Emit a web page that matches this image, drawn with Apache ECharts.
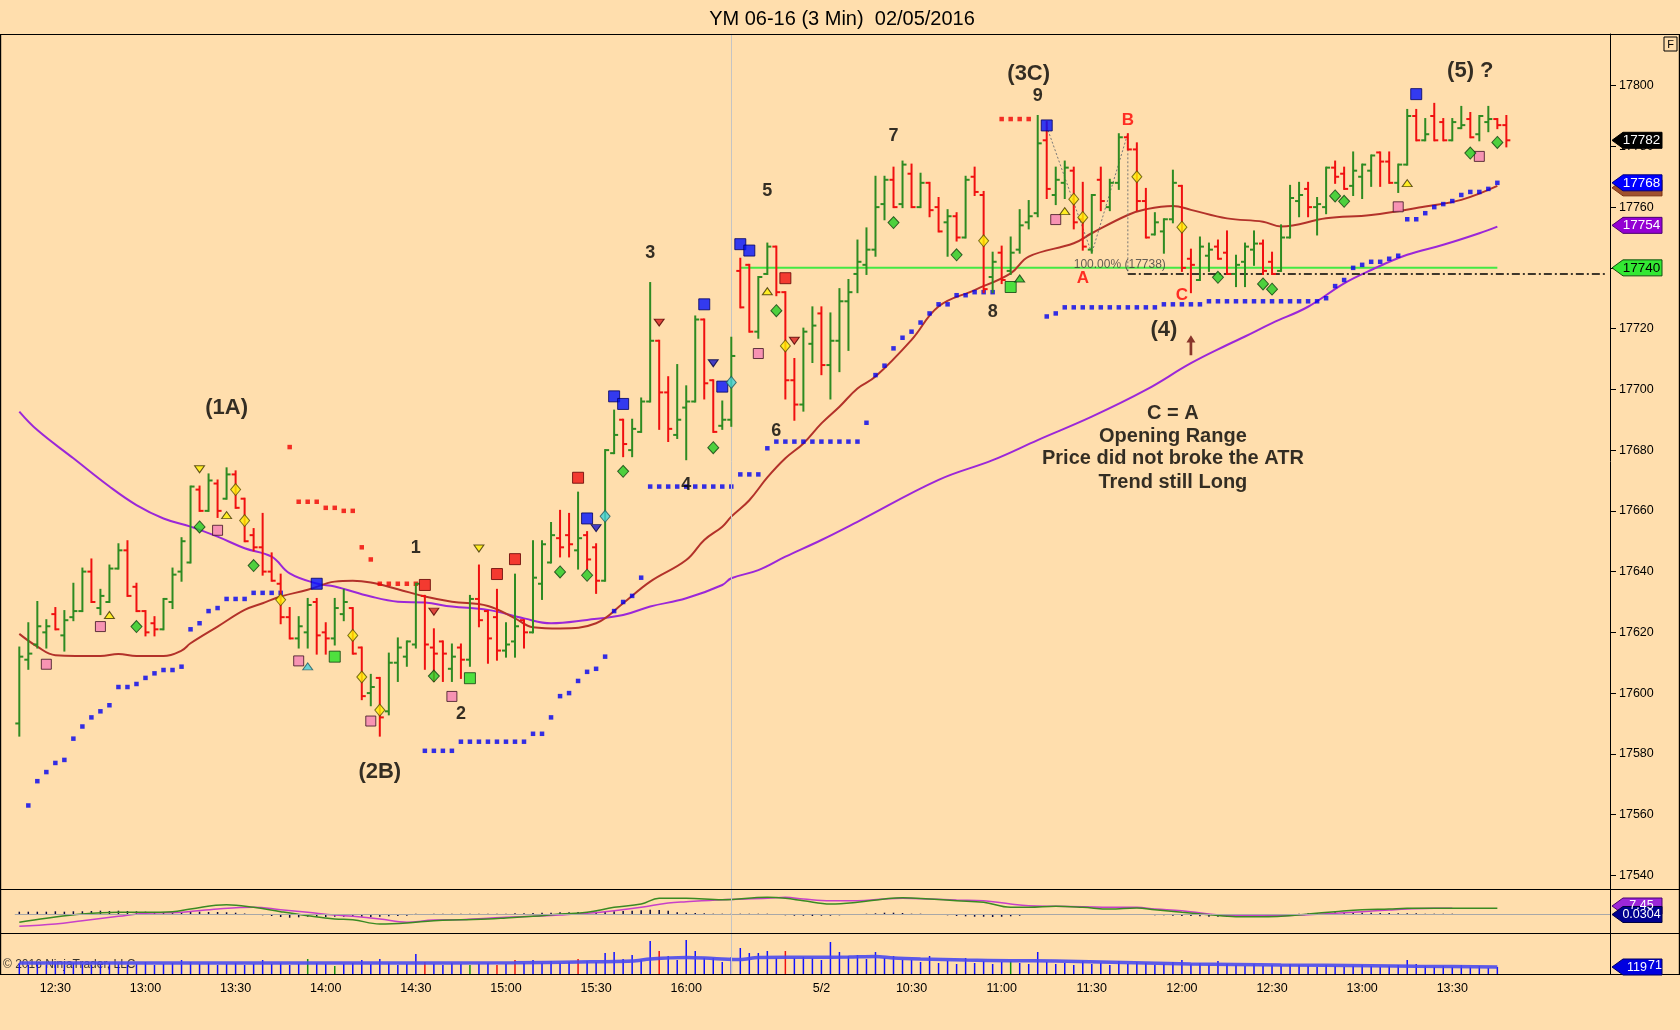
<!DOCTYPE html>
<html><head><meta charset="utf-8">
<script src="https://cdn.jsdelivr.net/npm/echarts@6/dist/echarts.min.js"></script>
<style>html,body{margin:0;padding:0;background:#FFDEAD;}#c{width:1680px;height:1030px;}</style>
</head><body><div id="c"></div>
<script>
// ---------------- DATA ----------------
const title = 'YM 06-16 (3 Min)  02/05/2016';
// bar times: session 1 12:18..16:15, session 2 (5/2) 09:33..13:48, then empty space
const categories = [];
(function(){
  function add(s, e, prefix){ for(let t=s;t<=e;t+=3){ categories.push(prefix+Math.floor(t/60)+':'+String(t%60).padStart(2,'0')); } }
  add(12*60+18, 16*60+15, '');
  add(9*60+33, 13*60+48, '5/2 ');
  while (categories.length < 177) categories.push(' ' + categories.length);
})();
const tickLabels = {4:'12:30',14:'13:00',24:'13:30',34:'14:00',44:'14:30',54:'15:00',64:'15:30',74:'16:00',
  89:'5/2',99:'10:30',109:'11:00',119:'11:30',129:'12:00',139:'12:30',149:'13:00',159:'13:30'};
const priceTicks = [17540,17560,17580,17600,17620,17640,17660,17680,17700,17720,17740,17760,17780,17800];

// OHLC [open, high, low, close]
const ohlc = [
[17590,17615,17586,17612],[17611,17623,17608,17613],[17616,17630,17615,17622],[17620,17624,17615,17622],[17626,17628,17621,17621],
[17619,17627,17614,17624],[17625,17636,17624,17627],[17627,17641,17627,17640],[17640,17644,17630,17630],[17628,17634,17626,17632],
[17630,17642,17630,17641],[17641,17649,17641,17647],[17647,17650,17632,17632],[17635,17636,17627,17627],[17627,17627,17619,17620],
[17623,17625,17619,17621],[17621,17631,17621,17631],[17630,17641,17628,17639],[17640,17651,17637,17650],[17643,17668,17643,17668],
[17667,17668,17660,17660],[17660,17672,17660,17670],[17669,17670,17658,17660],[17664,17674,17664,17672],[17672,17673,17661,17661],
[17664,17664,17650,17650],[17652,17654,17647,17648],[17648,17659,17639,17640],[17640,17646,17637,17637],[17636,17639,17623,17625],
[17625,17628,17618,17618],[17618,17625,17615,17622],[17620,17631,17615,17629],[17630,17631,17613,17619],[17620,17623,17613,17618],
[17618,17631,17616,17628],[17626,17634,17624,17630],[17628,17628,17613,17613],[17615,17615,17598,17599],[17600,17606,17596,17602],
[17605,17605,17586,17592],[17594,17613,17593,17610],[17610,17618,17604,17615],[17612,17617,17609,17617],[17616,17636,17615,17636],
[17632,17632,17608,17616],[17615,17621,17604,17613],[17617,17617,17604,17613],[17608,17616,17604,17612],[17615,17616,17605,17611],
[17611,17632,17609,17631],[17631,17642,17622,17624],[17627,17627,17610,17618],[17625,17634,17611,17614],[17614,17623,17612,17616],
[17617,17639,17612,17622],[17624,17624,17615,17620],[17620,17650,17620,17638],[17636,17650,17631,17649],[17643,17656,17643,17652],
[17651,17660,17645,17648],[17652,17659,17645,17649],[17647,17666,17641,17651],[17652,17653,17641,17644],[17648,17649,17633,17637],
[17637,17680,17637,17680],[17679,17693,17679,17685],[17690,17690,17678,17682],[17680,17690,17678,17687],[17686,17697,17686,17696],
[17696,17735,17696,17716],[17716,17716,17687,17699],[17699,17704,17683,17687],[17685,17708,17684,17690],[17694,17701,17677,17696],
[17696,17724,17696,17723],[17723,17723,17697,17702],[17703,17703,17686,17686],[17688,17696,17687,17690],[17690,17717,17688,17711],
[17739,17743,17727,17727],[17741,17741,17719,17719],[17719,17737,17717,17737],[17738,17748,17738,17747],[17747,17747,17731,17732],
[17732,17732,17697,17703],[17703,17710,17690,17695],[17695,17720,17693,17719],[17715,17727,17709,17721],[17725,17727,17705,17708],
[17708,17725,17697,17716],[17716,17733,17706,17729],[17729,17736,17713,17732],[17738,17749,17732,17742],[17741,17753,17738,17746],
[17746,17770,17744,17760],[17761,17770,17756,17769],[17769,17773,17760,17760],[17761,17775,17760,17774],[17771,17774,17760,17760],
[17760,17771,17760,17768],[17768,17768,17757,17759],[17760,17763,17752,17752],[17755,17759,17744,17757],[17757,17758,17749,17750],
[17750,17770,17750,17769],[17770,17773,17764,17765],[17764,17765,17732,17733],[17737,17745,17732,17742],[17745,17747,17735,17736],
[17739,17750,17738,17745],[17746,17759,17745,17754],[17755,17762,17753,17757],[17758,17790,17757,17781],[17782,17788,17763,17766],
[17764,17773,17761,17769],[17768,17775,17763,17773],[17772,17773,17753,17755],[17756,17768,17746,17747],[17746,17764,17745,17764],
[17769,17773,17759,17762],[17760,17769,17759,17768],[17768,17784,17766,17783],[17783,17784,17779,17779],[17779,17781,17759,17762],
[17762,17766,17750,17750],[17751,17758,17751,17755],[17752,17756,17745,17756],[17756,17772,17755,17768],[17767,17767,17739,17740],
[17743,17746,17732,17741],[17736,17750,17736,17747],[17744,17748,17739,17746],[17747,17749,17743,17743],[17745,17752,17738,17738],
[17738,17744,17734,17741],[17742,17748,17734,17747],[17746,17752,17741,17748],[17748,17749,17738,17739],[17742,17745,17738,17738],
[17739,17754,17739,17750],[17750,17767,17750,17763],[17762,17768,17757,17764],[17766,17768,17757,17760],[17760,17763,17751,17761],
[17760,17773,17758,17773],[17773,17775,17768,17770],[17771,17773,17766,17766],[17767,17778,17764,17772],[17770,17774,17763,17774],
[17772,17777,17767,17777],[17778,17778,17767,17775],[17775,17778,17768,17768],[17768,17774,17765,17774],[17774,17792,17774,17790],
[17790,17792,17782,17782],[17782,17789,17782,17784],[17790,17794,17782,17782],[17788,17789,17782,17782],[17782,17789,17782,17788],
[17786,17793,17786,17787],[17789,17791,17783,17783],[17784,17790,17782,17790],[17788,17793,17785,17789],[17789,17789,17786,17787],
[17787,17790,17780,17782]
];

// moving averages [barIndex, value]
const fastMA = [[0,17619.5],[2,17615.3],[4,17612.5],[9,17612.2],[11,17612.9],[13,17612.2],[16,17612.2],[18,17614],[19,17616.4],[22,17621.9],[25,17627.4],[27,17629.6],[29,17631.8],[32,17634],[35,17636.7],[37,17637],[39,17636.4],[42,17634.2],[45,17631.8],[48,17630.1],[52,17628.7],[55,17624.6],[57,17621.7],[60,17621.3],[64,17623],[67,17629.6],[70,17636.7],[74,17643.8],[76,17650.4],[78,17654.8],[79,17658.1],[81,17663.5],[83,17671],[85,17677.3],[87,17682.2],[89,17688.8],[91,17694.3],[93,17700.3],[95,17704.2],[99,17716.3],[102,17727.3],[106,17732.7],[110,17738.2],[112,17743.7],[117,17748.1],[119,17751.4],[123,17757.4],[125,17759.3],[128,17760.4],[130,17759.1],[134,17756.3],[138,17755.2],[140,17753.6],[145,17756.3],[150,17757.4],[156,17760.2],[160,17762.4],[164,17767]];
const slowMA = [[0,17692.7],[2,17686.6],[6,17677.3],[10,17668],[13,17661.9],[16,17657.5],[19,17654.8],[22,17651.5],[25,17647.7],[28,17644.9],[30,17639.4],[33,17636.1],[35,17635.1],[39,17631.8],[42,17630.1],[45,17629.8],[48,17628.5],[52,17627.4],[56,17624.6],[59,17623],[63,17624.1],[67,17625.7],[70,17628.5],[74,17631.2],[78,17635.6],[79,17637.8],[82,17640.5],[85,17644.9],[89,17650.4],[93,17656.4],[102,17670.2],[108,17676.7],[113,17683.3],[119,17691],[125,17699.8],[130,17708.6],[134,17714.6],[136,17717.4],[139,17721.8],[143,17727.2],[147,17734.9],[150,17739.3],[154,17744.3],[158,17747.6],[162,17751.4],[164,17753.6]];

// trailing stop dots
const longStops = [[1,17563],[2,17571],[3,17574],[4,17577],[5,17578],[6,17585],[7,17589],[8,17592],[9,17594],[10,17596],[11,17602],[12,17602],[13,17603],[14,17605],[15,17606.5],[16,17607.6],[17,17607.6],[18,17608.7],[19,17621],[20,17623],[21,17627],[22,17628],[23,17631],[24,17631],[25,17631],[26,17633],[27,17633],[28,17633],[29,17633],
[45,17581],[46,17581],[47,17581],[48,17581],[49,17584],[50,17584],[51,17584],[52,17584],[53,17584],[54,17584],[55,17584],[56,17584],[57,17586.6],[58,17586.6],[59,17592],[60,17599],[61,17600],[62,17604],[63,17607],[64,17608],[65,17612],[66,17627],[67,17630],[68,17632],[69,17638],
[70,17668],[71,17668],[72,17668],[73,17668],[74,17668],[75,17668],[76,17668],[77,17668],[78,17668],[79,17668],
[80,17672],[81,17672],[82,17672],[83,17680.6],[84,17682.8],[85,17682.8],[86,17682.8],[87,17682.8],[88,17682.8],[89,17682.8],[90,17682.8],[91,17682.8],[92,17682.8],[93,17682.8],[94,17689],[95,17704.7],[96,17707.8],[97,17713.5],[98,17717],[99,17719],[100,17722],[101,17725],[102,17728],[103,17728],[104,17731],[105,17731],[106,17732],[107,17732],[108,17732],
[114,17724],[115,17725],[116,17727],[117,17727],[118,17727],[119,17727],[120,17727],[121,17727],[122,17727],[123,17727],[124,17727],[125,17727],[126,17727],[127,17728],[128,17728],[129,17728],[130,17728],[131,17728],[132,17729],[133,17729],[134,17729],[135,17729],[136,17729],[137,17729],[138,17729],[139,17729],[140,17729],[141,17729],[142,17729],[143,17729],[144,17729],[145,17730],[146,17734],[147,17736],[148,17740],[149,17741],[150,17742],[151,17742],[152,17743],[153,17744],[154,17756],[155,17756],[156,17758],[157,17760],[158,17761],[159,17762],[160,17764],[161,17765],[162,17765],[163,17766],[164,17768]];
const shortStops = [[30,17681],[31,17663],[32,17663],[33,17663],[34,17661],[35,17661],[36,17660],[37,17660],[38,17648],[39,17644],[40,17636],[41,17636],[42,17636],[43,17636],[44,17636],[109,17789],[110,17789],[111,17789],[112,17789]];

// signal markers [barIndex, price]
const pinkSquares = [[3,17609.5],[9,17621.9],[22,17653.6],[31,17610.6],[39,17590.8],[48,17598.9],[82,17711.8],[115,17755.9],[153,17760.1],[162,17776.7]];
const greenDiamonds = [[13,17621.9],[20,17654.7],[26,17642],[46,17605.6],[60,17639.9],[63,17638.8],[67,17673],[77,17680.8],[84,17725.9],[97,17754.9],[104,17744.3],[133,17736.9],[138,17734.7],[139,17733],[146,17763.7],[147,17761.9],[161,17777.8],[164,17781.3]];
const greenSquares = [[35,17612],[50,17604.9],[110,17733.7]];
const yellowDiamonds = [[24,17667],[25,17656.8],[29,17630.7],[37,17619],[38,17605.3],[40,17594.4],[85,17714.3],[107,17748.9],[117,17762.6],[118,17756.6],[124,17770],[129,17753.4]];
const blueSquares = [[33,17636],[63,17657.5],[66,17697.7],[67,17695.2],[76,17728],[78,17700.9],[80,17747.8],[81,17745.7],[114,17786.9],[155,17797.2]];
const redSquares = [[45,17635.6],[53,17639.2],[55,17644.1],[62,17670.9],[85,17736.6]];
const yellowUpTri = [[10,17625.7],[23,17658.6],[83,17732.3],[116,17758.7],[154,17767.9]];
const yellowDownTri = [[20,17673.7],[51,17647.6]];
const redDownTri = [[46,17626.8],[71,17722],[86,17716]];
const blueDownTri = [[64,17654.3],[77,17708.6]];
const cyanDiamonds = [[65,17658.2],[79,17702.3]];
const cyanUpTri = [[32,17608.8]];
const greenUpTri = [[111,17736.5]];

// drawn objects
const orLine = [[80,17740],[164,17740]];
const fibLevel = [[123,17738],[176,17738]];
const fibPath = [[114,17786.5],[119,17744.8],[123,17784.3]];
const fibVert = [[123,17784.3],[123,17738]];
const fibText = [[117,17741,'100.00% (17738)']];
const sessionBreak = 79;

// text annotations [barIndex, price, text]
const waveLabels = [[23,17694,'(1A)'],[40,17574,'(2B)'],[112,17804,'(3C)'],[127,17719.6,'(4)'],[161.2,17805,'(5) ?']];
const countLabels = [[44,17647.8,'1'],[49,17593,'2'],[70,17745,'3'],[74,17668.5,'4'],[83,17765.4,'5'],[84,17686.4,'6'],[96.9,17783.4,'7'],[108,17725.3,'8'],[113,17796.5,'9']];
const abcLabels = [[118,17736.7,'A'],[123,17788.5,'B'],[129,17731.1,'C']];
const noteLines = [[128,17692.2,'C = A'],[128,17684.6,'Opening Range'],[128,17677.1,'Price did not broke the ATR'],[128,17669.5,'Trend still Long']];
const upArrow = [[130,17714.5]];

// oscillator panel
const oscFast = [[0,-8.3],[3,-4.3],[7,0],[11,1.7],[14,1.7],[17,2.3],[19,5],[23,9.3],[26,6.7],[29,2.3],[32,-1.7],[35,-5],[37,-5.7],[40,-10],[43,-9],[46,-6.7],[49,-5.7],[52,-5],[54,-4],[57,-2.3],[60,0],[63,1.7],[66,6.7],[69,10],[71,15.7],[74,15.7],[78,14.3],[83,16.7],[85,15.7],[87,13.3],[90,10],[93,11.7],[96,15],[98,16.3],[101,15],[104,13.3],[107,11.7],[110,6.7],[112,6.7],[115,7.7],[118,6.7],[121,5],[124,6],[126,4.3],[129,1.7],[132,-0.7],[135,-2.7],[138,-2.7],[140,-2.3],[143,0],[146,2.3],[149,4.3],[152,5],[154,5.7],[157,5.7],[164,5.7]];
const oscSlow = [[0,-12.3],[4,-10],[7,-6.7],[11,-2.3],[14,0.7],[18,1.7],[22,5],[26,6.7],[29,4.3],[32,1.7],[35,-1],[37,-2.3],[40,-5],[43,-8.3],[46,-6],[49,-5.7],[52,-4.3],[54,-3.3],[57,-2.3],[60,-1],[63,0.7],[66,3.3],[69,6.7],[72,11],[74,12.3],[78,14.3],[83,15.7],[85,16.7],[87,15],[90,13.3],[93,13.3],[96,15],[98,15.7],[101,15],[104,14],[107,13.3],[110,10],[112,8.3],[115,7.7],[118,7.3],[121,6.7],[124,6.7],[126,5],[129,3.3],[132,0],[135,-1.7],[138,-1.7],[140,-1.7],[143,-0.7],[146,0.7],[149,2.3],[152,4],[154,5],[157,5.7],[159,5.7]];
const oscHist = [2.3,2.3,2.3,2.3,2.7,2.3,2.7,2.7,3,3.3,3,3.3,3,2.7,
 2.3,1.7,1.3, 1.7,2,2.3,2.3,2,2,1.7,1.3, 0.5, -0.7,-1.3,-2, -3,-3.7,-3.3,
 -2.7,-2.7,-3,-2.7,-2.7,-2.3,-2.7,-3,-2.7, -2.3,-2,-1.7,
 0.3,-0.3,0.3,0.3,0.3,0.3,0.3,0.3,0.3,0.3,0.3,0.7,0.7, 1,1.3,1.3,1.7,
 1.7,2,2,2.3,2.7,2.7, 3,3.3,3.7,4.3,4,3.3, 1.7,1.3,1,0.7, 0.3,0.3,0.3,0.3,0.3,0.3,0.3,
 -1,-1.3,-1.7,-1.7,-2,-1.7,-1.7,-1.3,-1,-0.7, 0.3,0.7, 1.3,1.3,1, 0.3,0.3, -0.7,-1,-1.3,
 -2,-2.3,-2.7,-2.7,-3,-2.7,-2.3,-1.7,-1, -0.3,-0.3,-0.3,-0.3,-0.3,-0.3,-0.3,-0.3,
 -0.3,-0.7,-0.7,-1,-1, -1.3,-1.3, -1.7,-2,-2,-2.3, -2.7,-2.7,-3,-2.7,-2.7,-2.3,-2,-1.7,-1.3,
 -0.3,0.3,0.7, 1,1.3,1.7,1.7,1.7,1.3,1.3, 1,1,0.7,0.7,0.7,0.3,0.3,0.3,0.3];

// volume panel
const volume = [11,9,10,9,10,9,11,10,9,10,11,10,9,10,12,9,10,11,14,12,
 10,11,9,10,11,9,10,14,10,11,9,10,15,11,10,8,10,11,14,10,
 15,11,9,10,20,12,10,9,11,10,9,10,11,9,10,14,11,14,11,13,
 11,12,15,13,12,21,22,15,19,14,33,23,18,14,34,23,16,16,12,17,
 26,21,21,23,16,23,16,17,16,14,32,22,18,19,15,22,16,18,14,14,
 12,18,11,13,10,16,11,13,10,12,13,11,10,22,12,10,11,9,13,10,
 11,9,13,10,12,11,9,10,12,14,10,11,9,13,10,9,8,10,8,9,
 8,10,9,8,7,9,8,7,8,9,8,7,8,9,14,10,8,7,8,7,9,7,8,6,7];
const volUp = [32,35,50,110];
const volDown = [45,53,55,62,71,85];
const volMA = [[0,11],[20,11],[40,11],[55,11.3],[62,12],[68,13],[70,15],[74,16.5],[77,15.5],[80,14.5],[82,16.5],[88,16.7],[92,17],[95,17.5],[97,16],[100,15],[105,14],[110,13.3],[115,13],[120,12],[125,11],[130,10],[140,9],[150,8.3],[155,7.7],[164,7]];

// last-value tags
const priceTagValues = [17782, 17768, 17754, 17740];
const hiddenTagValue = 17767;
const oscTagValues = [8, -0.5];
const oscTagTexts = ['7.45', '0.0304'];
const volTagValue = 7;
const volTagTexts = ['119', '71'];

// ---------------- STYLE / LAYOUT ----------------
const BG = '#FFDEAD';
const UP = '#2E8B22', DN = '#F01010';
const AXF = "'Liberation Sans',Arial,sans-serif";
const SANS = "'Liberation Sans',Arial,sans-serif";
const GL = 14.8, GW = 1595.2, AXIS_X = 1610;
const xAxisBase = {type:'category', data: categories, axisLine:{show:false}, axisTick:{show:false}, splitLine:{show:false}};

function ohlcItem(params, api) {
  const x = api.value(0);
  const o = api.coord([x, api.value(1)]);
  const h = api.coord([x, api.value(2)]);
  const l = api.coord([x, api.value(3)]);
  const c = api.coord([x, api.value(4)]);
  const col = api.value(4) >= api.value(1) ? UP : DN;
  const st = {stroke: col, lineWidth: 2};
  const t = 4;
  return {type:'group', children:[
    {type:'line', shape:{x1:h[0], y1:h[1]-1, x2:l[0], y2:l[1]+1}, style:st},
    {type:'line', shape:{x1:o[0]-t, y1:o[1], x2:o[0], y2:o[1]}, style:st},
    {type:'line', shape:{x1:c[0], y1:c[1], x2:c[0]+t, y2:c[1]}, style:st}
  ]};
}

function markerSeries(data, symbol, size, fill, border, rotate) {
  return {type:'scatter', xAxisIndex:0, yAxisIndex:0, data, symbol, symbolSize:size, symbolRotate: rotate||0,
    itemStyle:{color:fill, borderColor:border, borderWidth:1}, z:6, silent:true};
}
function textSeries(data, font, z) {
  return {type:'scatter', xAxisIndex:0, yAxisIndex:0, symbolSize:1, z: z||8, silent:true,
    itemStyle:{color:'rgba(0,0,0,0)'},
    data: data.map(d => ({value:[d[0], d[1]], name:d[2]})),
    label: Object.assign({show:true, position:'inside', formatter: p => p.name, align:'center', verticalAlign:'middle'}, font)};
}

const option = {
  animation: false,
  backgroundColor: BG,
  title: {text: title, left: 837, top: 4, textAlign: 'center',
    textStyle:{fontFamily: SANS, fontSize: 20, fontWeight:'normal', color:'#000'}},
  grid: [
    {left: GL, width: GW, top: 34, height: 855},
    {left: GL, width: GW, top: 889, height: 44},
    {left: GL, width: GW, top: 933, height: 41}
  ],
  xAxis: [
    Object.assign({gridIndex:0, axisLabel:{show:false}}, xAxisBase),
    Object.assign({gridIndex:1, axisLabel:{show:false}}, xAxisBase),
    Object.assign({gridIndex:2, axisLabel:{show:true, interval: (i) => tickLabels[i] !== undefined,
      formatter: (v, i) => tickLabels[i] || '', color:'#000', fontFamily: AXF, fontSize: 12.5, margin: 8}}, xAxisBase)
  ],
  yAxis: [
    {gridIndex:0, type:'value', position:'right', min:17535.5, max:17817, scale:true,
      axisLine:{show:true, lineStyle:{color:'#000', width:1}},
      axisTick:{show:true, inside:false, length:6, customValues: priceTicks, lineStyle:{color:'#000'}},
      axisLabel:{show:true, customValues: priceTicks, formatter: v => String(v), margin:9, color:'#000', fontFamily: AXF, fontSize:12.5},
      splitLine:{show:false}},
    {gridIndex:1, type:'value', position:'right', min:-19, max:25,
      axisLine:{show:true, lineStyle:{color:'#000', width:1}}, axisTick:{show:false}, axisLabel:{show:false}, splitLine:{show:false}},
    {gridIndex:2, type:'value', position:'right', min:0, max:41,
      axisLine:{show:true, lineStyle:{color:'#000', width:1}}, axisTick:{show:false}, axisLabel:{show:false}, splitLine:{show:false}}
  ],
  series: [
    // moving averages
    {type:'line', xAxisIndex:0, yAxisIndex:0, data: slowMA, smooth:0.4, showSymbol:false, symbol:'none',
      lineStyle:{color:'#9B27D8', width:2}, z:3, silent:true},
    {type:'line', xAxisIndex:0, yAxisIndex:0, data: fastMA, smooth:0.4, showSymbol:false, symbol:'none',
      lineStyle:{color:'#B3322A', width:2}, z:3, silent:true,
      markLine:{silent:true, symbol:'none', label:{show:false}, lineStyle:{color:'#C4C4C4', width:1, type:'solid'},
        data:[{xAxis: categories[sessionBreak]}]}},
    // opening range line and fib drawing
    {type:'line', xAxisIndex:0, yAxisIndex:0, data: orLine, showSymbol:false, symbol:'none',
      lineStyle:{color:'#44E844', width:2}, z:2, silent:true},
    {type:'line', xAxisIndex:0, yAxisIndex:0, data: fibLevel, showSymbol:false, symbol:'none',
      lineStyle:{color:'#000', width:1.5, type:[8,3,2,3]}, z:4, silent:true},
    {type:'line', xAxisIndex:0, yAxisIndex:0, data: fibPath, showSymbol:false, symbol:'none',
      lineStyle:{color:'#777', width:1, type:[2,2]}, z:4, silent:true},
    {type:'line', xAxisIndex:0, yAxisIndex:0, data: fibVert, showSymbol:false, symbol:'none',
      lineStyle:{color:'#777', width:1, type:[2,2]}, z:4, silent:true},
    // stops
    {type:'scatter', xAxisIndex:0, yAxisIndex:0, data: longStops, symbol:'rect', symbolSize:4.5,
      itemStyle:{color:'#0000F0'}, z:4, silent:true},
    {type:'scatter', xAxisIndex:0, yAxisIndex:0, data: shortStops, symbol:'rect', symbolSize:4.5,
      itemStyle:{color:'#F00000'}, z:4, silent:true},
    // OHLC bars
    {type:'custom', xAxisIndex:0, yAxisIndex:0, renderItem: ohlcItem, z:5, silent:true,
      data: ohlc.map((r, i) => [i, r[0], r[1], r[2], r[3]]), encode:{x:0, y:[1,2,3,4]}},
    // markers
    markerSeries(pinkSquares, 'rect', 10, '#F57FB4', '#3a1020'),
    markerSeries(greenSquares, 'rect', 11, '#22E022', '#104010'),
    markerSeries(blueSquares, 'rect', 11, '#0010FF', '#000060'),
    markerSeries(redSquares, 'rect', 11, '#F01010', '#600000'),
    markerSeries(greenDiamonds, 'diamond', [11,12], '#22CC22', '#104010'),
    markerSeries(yellowDiamonds, 'diamond', [10,12], '#FFF000', '#5a5000'),
    markerSeries(cyanDiamonds, 'diamond', [10,12], '#40D0D8', '#205a60'),
    markerSeries(yellowUpTri, 'triangle', [10,7], '#FFF000', '#3a3000'),
    markerSeries(yellowDownTri, 'triangle', [10,7], '#FFF000', '#3a3000', 180),
    markerSeries(redDownTri, 'triangle', [10,7], '#D82020', '#500000', 180),
    markerSeries(blueDownTri, 'triangle', [10,7], '#1515C8', '#000040', 180),
    markerSeries(cyanUpTri, 'triangle', [10,7], '#40D0E0', '#205a60'),
    markerSeries(greenUpTri, 'triangle', [10,7], '#22CC22', '#104010'),
    {type:'scatter', xAxisIndex:0, yAxisIndex:0, data: upArrow,
      symbol:'path://M5,0 L10,8 L6.5,8 L6.5,22 L3.5,22 L3.5,8 L0,8 Z', symbolSize:[9,20],
      itemStyle:{color:'#6A0A0A'}, z:7, silent:true},
    // annotations
    textSeries(waveLabels, {fontFamily:SANS, fontWeight:'bold', fontSize:22, color:'#000'}),
    textSeries(countLabels, {fontFamily:SANS, fontWeight:'bold', fontSize:18, color:'#000'}),
    textSeries(abcLabels, {fontFamily:SANS, fontWeight:'bold', fontSize:17, color:'#FF0000'}),
    textSeries(noteLines, {fontFamily:SANS, fontWeight:'bold', fontSize:20, color:'#000'}),
    (function(){ const s = textSeries(fibText, {fontFamily:SANS, fontSize:12, color:'#3c3c3c'}); s.label.align='left'; return s; })(),
    // oscillator panel
    {type:'bar', xAxisIndex:1, yAxisIndex:1, data: oscHist, barWidth:1.5, itemStyle:{color:'#0A0A40'}, silent:true,
      markLine:{silent:true, symbol:'none', label:{show:false}, lineStyle:{color:'#A8A8A8', width:1, type:'solid'},
        data:[{yAxis:0}]}},
    {type:'line', xAxisIndex:1, yAxisIndex:1, data: oscSlow, smooth:0.4, symbol:'none',
      lineStyle:{color:'#C840C8', width:1.5}, silent:true},
    {type:'line', xAxisIndex:1, yAxisIndex:1, data: oscFast, smooth:0.4, symbol:'none',
      lineStyle:{color:'#3A8A22', width:1.5}, silent:true,
      markLine:{silent:true, symbol:'none', label:{show:false}, lineStyle:{color:'#C4C4C4', width:1, type:'solid'},
        data:[{xAxis: categories[sessionBreak]}]}},
    // volume panel
    {type:'bar', xAxisIndex:2, yAxisIndex:2, barWidth:1.5, silent:true,
      data: volume.map((v, i) => ({value:v, itemStyle:{color: volUp.includes(i) ? '#109010' : (volDown.includes(i) ? '#F01010' : '#1010FF')}})),
      markLine:{silent:true, symbol:'none', label:{show:false}, lineStyle:{color:'#C4C4C4', width:1, type:'solid'},
        data:[{xAxis: categories[sessionBreak]}]}},
    {type:'line', xAxisIndex:2, yAxisIndex:2, data: volMA, smooth:0.3, symbol:'none',
      lineStyle:{color:'#4A4AEE', width:3.5, opacity:0.9}, silent:true}
  ]
};

const chart = echarts.init(document.getElementById('c'), null, {width:1680, height:1030});
chart.setOption(option);

// ---------------- frame, tags ----------------
function hline(y, x1, x2) { return {type:'line', shape:{x1, y1:y, x2, y2:y}, style:{stroke:'#000', lineWidth:1.2}, z:20, silent:true}; }
function vline(x, y1, y2) { return {type:'line', shape:{x1:x, y1, x2:x, y2}, style:{stroke:'#000', lineWidth:1.2}, z:20, silent:true}; }
function tag(y, fill, stroke, text, color, x1, fs) {
  x1 = x1 || 1662; fs = fs || 13.5;
  const x0 = AXIS_X + 2;
  return [
    {type:'polygon', shape:{points:[[x0,y],[x0+11,y-8],[x1,y-8],[x1,y+8],[x0+11,y+8]]},
      style:{fill, stroke, lineWidth:1}, z:30, silent:true},
    {type:'text', style:{text, x:(x0+11+x1)/2 - 1, y, align:'center', verticalAlign:'middle',
      fill:color, font: fs + "px " + AXF}, z:31, silent:true}
  ];
}
const py = v => chart.convertToPixel({yAxisIndex:0}, v);
const oy = v => chart.convertToPixel({yAxisIndex:1}, v);
const vy = v => chart.convertToPixel({yAxisIndex:2}, v);

const tagColors = [['#000000','#000','#FFFFFF'],['#0000FF','#000080','#FFFFFF'],['#9400D3','#4a0070','#FFFFFF'],['#33E833','#105010','#000000']];
let g = [
  hline(34.5, 0, 1680), hline(889.5, 0, 1680), hline(933.5, 0, 1680), hline(974.5, 0, 1680),
  vline(0.6, 34, 975), vline(1679.4, 34, 975),
  {type:'rect', shape:{x:1664, y:37, width:13, height:14}, style:{fill:BG, stroke:'#000', lineWidth:1}, z:20, silent:true},
  {type:'text', style:{text:'F', x:1670.5, y:44.5, align:'center', verticalAlign:'middle', fill:'#000', font:'11px '+SANS}, z:21, silent:true},
  {type:'text', style:{text:'\u00A9 2016 NinjaTrader, LLC', x:3, y:965, align:'left', verticalAlign:'middle',
    fill:'rgba(20,20,20,0.85)', font:'12px '+SANS}, z:1, silent:true}
];
g = g.concat(tag(py(hiddenTagValue)+2, '#A0522D', '#7a3010', '', '#fff'));
[3,2,1,0].forEach(k => {
  const v = priceTagValues[k];
  g = g.concat(tag(py(v), tagColors[k][0], tagColors[k][1], String(v), tagColors[k][2]));
});
g = g.concat(tag(oy(oscTagValues[0]), '#9B27D8', '#4a0070', oscTagTexts[0], '#FFFFFF', 1662, 12.5));
g = g.concat(tag(oy(oscTagValues[1]), '#000090', '#000040', oscTagTexts[1], '#FFFFFF', 1662, 12.5));
g = g.concat(tag(vy(volTagValue), '#0000E0', '#000060', '', '#FFFFFF', 1662, 12.5));
g.push({type:'text', style:{text:volTagTexts[0], x:1637, y:vy(volTagValue)+1, align:'center', verticalAlign:'middle', fill:'#fff', font:'12.5px '+AXF}, z:32, silent:true});
g.push({type:'text', style:{text:volTagTexts[1], x:1655, y:vy(volTagValue)-1, align:'center', verticalAlign:'middle', fill:'#fff', font:'12.5px '+AXF}, z:32, silent:true});
chart.setOption({graphic: g});
</script></body></html>
